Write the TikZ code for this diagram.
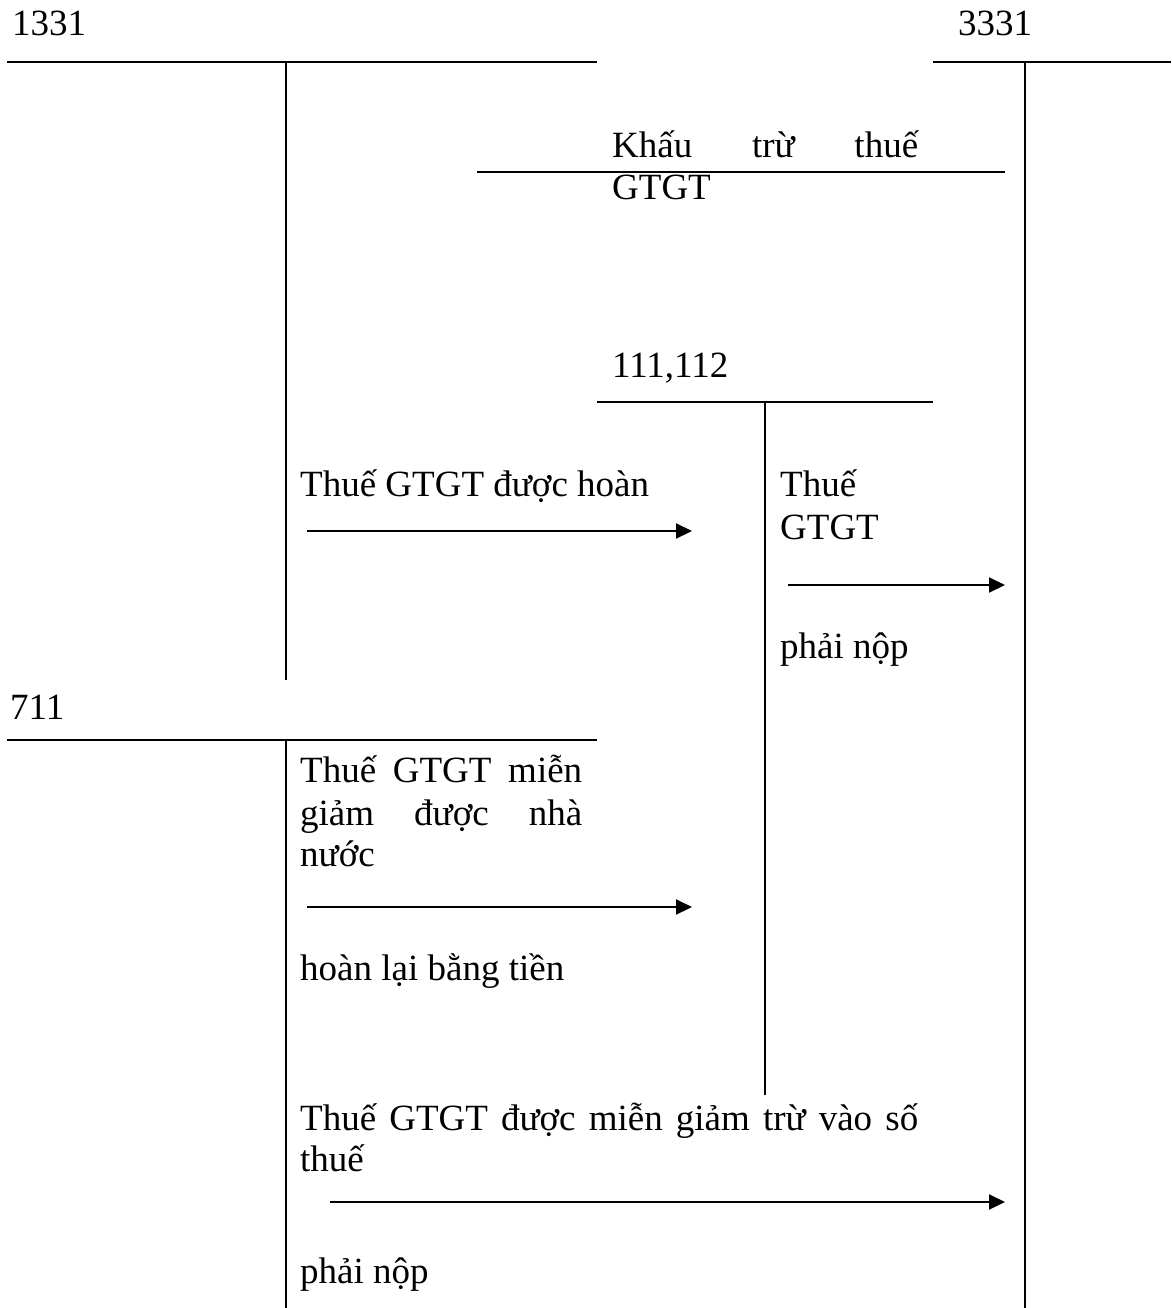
\documentclass[tikz,border=0pt]{standalone}
\usepackage{fontspec}
\setmainfont{Liberation Serif}
\usetikzlibrary{arrows.meta}
\begin{document}
\begin{tikzpicture}[x=1pt,y=-1pt,
  acct/.style={line width=2pt},
  thin/.style={line width=1.6pt},
  flow/.style={line width=2pt,-{Triangle[length=16pt,width=15pt]}},
  lbl/.style={anchor=base west,inner sep=0pt,font=\fontsize{37}{43}\selectfont}]
\useasboundingbox (0,0) rectangle (1171,1308);
% T-account 1331
\draw[acct] (7,62) -- (597,62);
\draw[acct] (286,62) -- (286,680);
\node[lbl] (n1331) at (12,36) {1331};
% T-account 3331
\draw[acct] (933,62) -- (1171,62);
\draw[acct] (1025,62) -- (1025,1308);
\node[lbl] (n3331) at (958,36) {3331};
% Khau tru thue
\draw[thin] (477,172) -- (1005,172);
\node[lbl] (kt1) at (612,158) {\makebox[306pt][s]{Khấu\hfill trừ\hfill thuế}};
\node[lbl] (kt2) at (612,200) {GTGT};
% T-account 111,112
\node[lbl] (n111) at (612,377) {111,112};
\draw[acct] (597,402) -- (933,402);
\draw[acct] (765,402) -- (765,1095);
% Thue GTGT duoc hoan
\node[lbl] (h1) at (300,496) {Thuế GTGT được hoàn};
\coordinate (a1s) at (307,531);
\coordinate (a1e) at (692,531);
\draw[flow] (a1s) -- (a1e);
% Thue GTGT phai nop
\node[lbl] (p1) at (780,496) {Thuế};
\node[lbl] (p2) at (780,539) {GTGT};
\coordinate (a2s) at (788,585);
\coordinate (a2e) at (1005,585);
\draw[flow] (a2s) -- (a2e);
\node[lbl] (p3) at (780,658) {phải nộp};
% T-account 711
\node[lbl] (n711) at (10,719) {711};
\draw[acct] (7,740) -- (597,740);
\draw[acct] (286,740) -- (286,1308);
% mien giam hoan lai
\node[lbl] (m1) at (300,782) {\makebox[282pt][s]{Thuế\hfill GTGT\hfill miễn}};
\node[lbl] (m2) at (300,825) {\makebox[282pt][s]{giảm\hfill được\hfill nhà}};
\node[lbl] (m3) at (300,866) {nước};
\coordinate (a3s) at (307,907);
\coordinate (a3e) at (692,907);
\draw[flow] (a3s) -- (a3e);
\node[lbl] (m4) at (300,980) {hoàn lại bằng tiền};
% mien giam tru vao so thue
\node[lbl] (t1) at (300,1130) {\makebox[618pt][s]{Thuế\hfill GTGT\hfill được\hfill miễn\hfill giảm\hfill trừ\hfill vào\hfill số}};
\node[lbl] (t2) at (300,1171) {thuế};
\coordinate (a4s) at (330,1202);
\coordinate (a4e) at (1005,1202);
\draw[flow] (a4s) -- (a4e);
\node[lbl] (t3) at (300,1283) {phải nộp};
\end{tikzpicture}
\end{document}
